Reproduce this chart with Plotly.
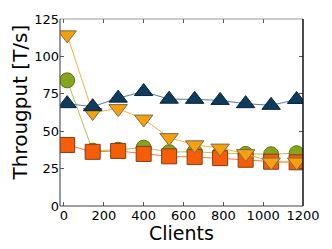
import plotly.graph_objects as go

clients = [16, 144, 272, 400, 528, 656, 784, 912, 1040, 1168]
green_vals = [84, 37, 37.6, 39, 36, 36.3, 35.3, 34.8, 34.6, 35.3]
square_vals = [40.8, 36.2, 36.8, 34.8, 33.2, 32.7, 32.0, 30.9, 29.6, 29.2]
orange_vals = [114.4, 62.5, 65.1, 58.1, 45.7, 40.9, 38.7, 35.0, 29.4, 29.4]
navy_vals = [68.4, 66.4, 72.1, 76.5, 71.4, 71.3, 70.6, 68.4, 67.3, 71.2]

x_ticks = [0, 200, 400, 600, 800, 1000, 1200]
y_ticks = [0, 25, 50, 75, 100, 125]

fig = go.Figure()

series = [
    (green_vals, "circle", 15, "#86a41c", "#a9c65a", "#5e7314"),
    (square_vals, "square", 15, "#f65d09", "#f57c40", "#8a3c10"),
    (orange_vals, "triangle-down", 16, "#f5a00c", "#f7b040", "#7a6a50"),
    (navy_vals, "triangle-up", 16, "#0d3c5c", "#5a7d96", "#0a2236"),
]
for vals, sym, size, fill, line_c, edge in series:
    fig.add_trace(go.Scatter(
        x=clients, y=vals, mode="lines+markers",
        line=dict(color=line_c, width=1),
        marker=dict(symbol=sym, size=size, color=fill,
                    line=dict(color=edge, width=1)),
        showlegend=False,
    ))

axis_font = dict(family="DejaVu Sans", size=13, color="black")
fig.update_layout(
    width=332, height=249,
    margin=dict(l=60, r=26, t=14, b=43),
    paper_bgcolor="white", plot_bgcolor="white",
    font=dict(family="DejaVu Sans", color="black"),
    xaxis=dict(range=[-20, 1200], tickvals=x_ticks, ticks="inside", ticklen=4,
               tickcolor="#555555", mirror="ticks", showline=False,
               showgrid=False, zeroline=False, tickfont=axis_font,
               ticklabelstandoff=0),
    yaxis=dict(range=[0, 125], tickvals=y_ticks, ticks="inside", ticklen=4,
               tickcolor="#555555", mirror="ticks", showline=False,
               showgrid=False, zeroline=False, tickfont=axis_font,
               ticklabelstandoff=0),
    annotations=[
        dict(text="Clients", xref="paper", yref="paper", x=0.5, y=0,
             xanchor="center", yanchor="middle", yshift=-27, showarrow=False,
             font=dict(family="DejaVu Sans", size=19, color="black")),
        dict(text="Througput [T/s]", xref="paper", yref="paper", x=0, y=0.5,
             xanchor="center", yanchor="middle", xshift=-41, yshift=10,
             textangle=-90, showarrow=False,
             font=dict(family="DejaVu Sans", size=20, color="black")),
    ],
    shapes=[
        dict(type="line", xref="paper", yref="paper", x0=0, x1=1, y0=0, y1=0,
             line=dict(color="#444444", width=1.2)),
        dict(type="line", xref="paper", yref="paper", x0=0, x1=1, y0=1, y1=1,
             line=dict(color="#999999", width=1.2)),
        dict(type="line", xref="paper", yref="paper", x0=0, x1=0, y0=0, y1=1,
             line=dict(color="#555555", width=1.2)),
        dict(type="line", xref="paper", yref="paper", x0=1, x1=1, y0=0, y1=1,
             line=dict(color="#111111", width=1.5)),
    ],
)

fig.write_html("out.html", config={"displayModeBar": False},
               post_script="document.body.style.margin='0';document.body.style.overflow='hidden';")
